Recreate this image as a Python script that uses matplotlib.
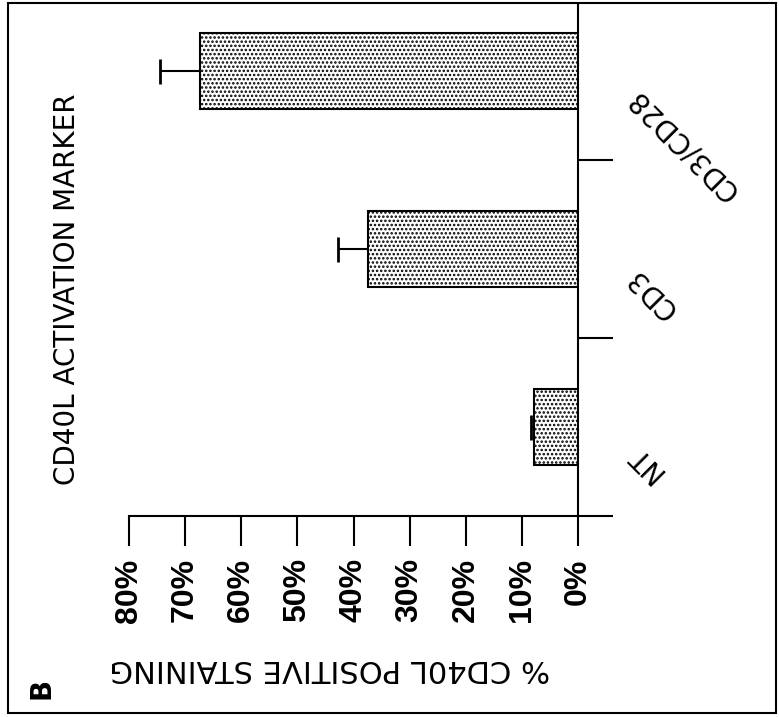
"""CD40L activation marker bar chart, drawn sideways like the scanned figure."""

import matplotlib
matplotlib.use("Agg")
import matplotlib.pyplot as plt  # noqa: E402
from matplotlib.patches import Rectangle  # noqa: E402
from matplotlib.transforms import blended_transform_factory  # noqa: E402

CATEGORIES = ["NT", "CD3", "CD3/CD28"]
VALUES = [7.8, 37.4, 67.4]          # % CD40L positive staining
ERRORS = [0.6, 5.3, 7.1]            # upper error only
TICKS = [0, 10, 20, 30, 40, 50, 60, 70, 80]
TICK_LABELS = [f"{t}%" for t in TICKS]

W, H = 779, 717
plt.rcParams["hatch.linewidth"] = 1.2

fig = plt.figure(figsize=(W / 100, H / 100), dpi=100)
# axes box in pixels: x 129..578, y 4..516 (from top)
ax = fig.add_axes([129 / W, 1 - 516 / H, (578 - 129) / W, (516 - 4) / H])

pos = list(range(len(CATEGORIES)))
ax.barh(pos, VALUES, height=0.43, color="white", edgecolor="black",
        hatch="....", linewidth=1.5, zorder=2)
ax.errorbar(VALUES, pos, xerr=[[0] * len(ERRORS), ERRORS], fmt="none",
            ecolor="black", elinewidth=1.5, capsize=9, capthick=2, zorder=1)

ax.set_xlim(80, 0)
ax.set_ylim(-0.5, 2.376)

for s in ("top", "left"):
    ax.spines[s].set_visible(False)
for s in ("bottom", "right"):
    ax.spines[s].set_linewidth(1.5)

ax.set_xticks(TICKS)
ax.set_xticklabels(TICK_LABELS, rotation=90, fontsize=23, fontweight="bold",
                   family=["Liberation Sans", "DejaVu Sans"])
ax.tick_params(axis="x", direction="out", length=21.5, width=1.5, pad=9)

# category boundaries as ticks on the right
ax.yaxis.tick_right()
ax.set_yticks([-0.5, 0.5, 1.5])
ax.set_yticklabels([])
ax.tick_params(axis="y", direction="out", length=25, width=1.5)

# category labels, turned like the rest of the figure
tr = blended_transform_factory(ax.transAxes, ax.transData)
for i, name in enumerate(CATEGORIES):
    ax.text(1.12, i - 0.13, name, transform=tr, rotation=135,
            rotation_mode="anchor", ha="right", va="center", fontsize=20)

fig.text(330 / W, 1 - 668 / H, "% CD40L POSITIVE STAINING", rotation=180,
         ha="center", va="center", fontsize=22)
fig.text(67 / W, 1 - 289 / H, "CD40L ACTIVATION MARKER", rotation=90,
         ha="center", va="center", fontsize=20)
fig.text(42 / W, 1 - 688 / H, "B", rotation=90, ha="center", va="center",
         fontsize=20, fontweight="bold")

# outer frame of the panel
fig.patches.append(Rectangle((8 / W, 1 - 713 / H), (776 - 8) / W, (713 - 3) / H,
                             transform=fig.transFigure, fill=False,
                             edgecolor="black", linewidth=1.5))

fig.savefig("out.png", dpi=100)
